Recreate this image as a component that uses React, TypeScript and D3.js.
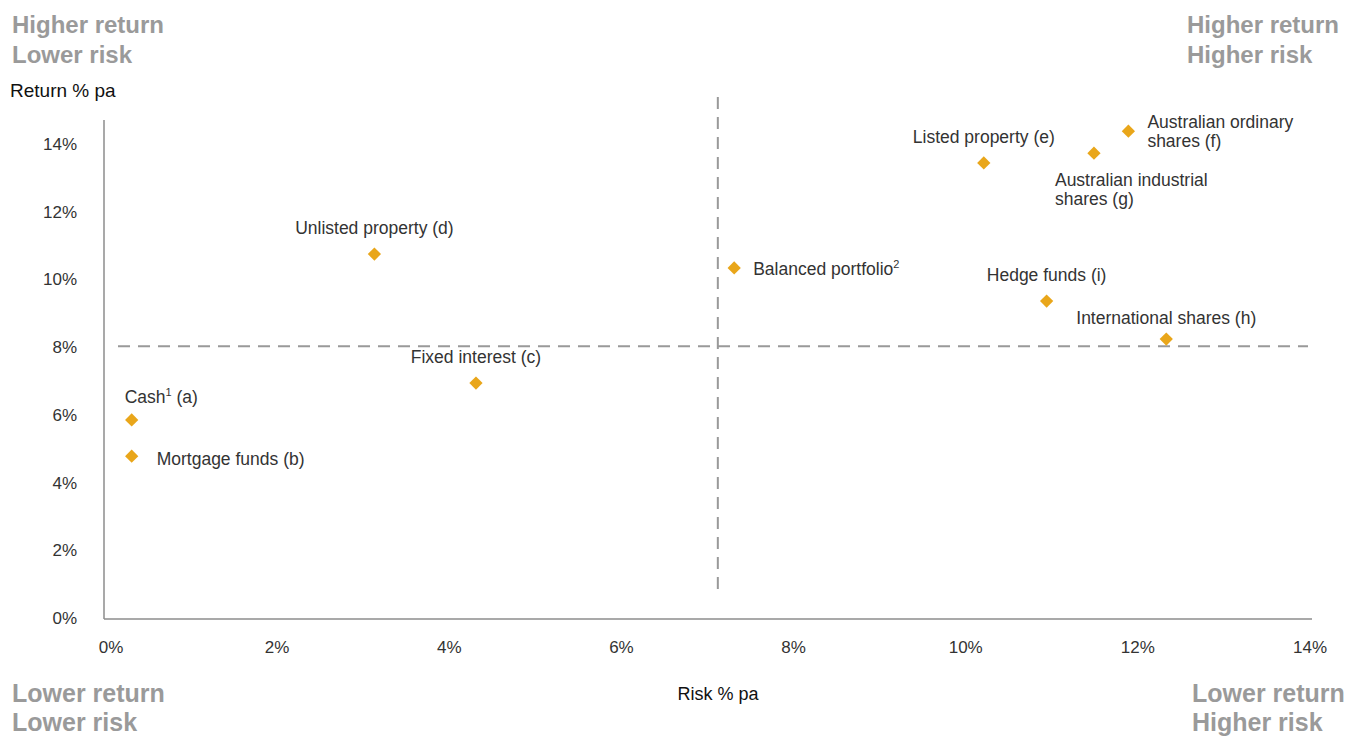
import React from "react";
import * as d3 from "d3";

// Asset classes: risk (% pa) vs return (% pa)
const assetNames = [
  "Cash¹ (a)",
  "Mortgage funds (b)",
  "Fixed interest (c)",
  "Unlisted property (d)",
  "Balanced portfolio²",
  "Listed property (e)",
  "Australian ordinary shares (f)",
  "Australian industrial shares (g)",
  "International shares (h)",
  "Hedge funds (i)",
];
const riskValues = [0.31, 0.31, 4.31, 3.13, 7.31, 10.21, 11.89, 11.49, 12.33, 10.94];
const returnValues = [5.85, 4.78, 6.94, 10.75, 10.34, 13.44, 14.38, 13.73, 8.24, 9.36];

// Label placement for each point: which side the label sits on
const labelPlacement = ["above-left", "right", "above", "above", "right", "above", "right-two", "below-two", "above-close", "above"];
const labelLines = [
  ["Cash", "1", " (a)"],
  ["Mortgage funds (b)"],
  ["Fixed interest (c)"],
  ["Unlisted property (d)"],
  ["Balanced portfolio", "2", ""],
  ["Listed property (e)"],
  ["Australian ordinary", "shares (f)"],
  ["Australian industrial", "shares (g)"],
  ["International shares (h)"],
  ["Hedge funds (i)"],
];

const xTicks = [0, 2, 4, 6, 8, 10, 12, 14];
const yTicks = [0, 2, 4, 6, 8, 10, 12, 14];

// Quadrant dividers
const riskDivider = 7.12;
const returnDivider = 8.03;

const W = 1348;
const H = 736;
const FONT = "'Liberation Sans', Arial, Helvetica, sans-serif";
const GOLD = "#E9A61A";
const TEXT = "#333333";
const QUAD = "#9a9a9a";
const LS = 17.5;

export default function App() {
  const x = d3.scaleLinear().domain([0, 14]).range([105, 1310]);
  const y = d3.scaleLinear().domain([0, 14]).range([618, 144]);
  const diamondSq = d3.symbol().type(d3.symbolSquare).size(88)();

  const renderLabel = (i: number) => {
    const px = x(riskValues[i]);
    const py = y(returnValues[i]);
    const lines = labelLines[i];
    const pl = labelPlacement[i];
    const common = { fontFamily: FONT, fontSize: LS, fill: TEXT };
    if (pl === "above-left") {
      return (
        <text key={i} x={px - 7} y={py - 17} {...common}>
          {lines[0]}
          <tspan fontSize={11} dy={-7}>{lines[1]}</tspan>
          <tspan dy={7}>{lines[2]}</tspan>
        </text>
      );
    }
    if (pl === "right") {
      if (lines.length === 3) {
        return (
          <text key={i} x={px + 19} y={py + 7} {...common}>
            {lines[0]}
            <tspan fontSize={11} dy={-7}>{lines[1]}</tspan>
          </text>
        );
      }
      return (
        <text key={i} x={px + 25} y={py + 9} {...common}>
          {lines[0]}
        </text>
      );
    }
    if (pl === "above" || pl === "above-close") {
      return (
        <text key={i} x={px} y={py - (pl === "above" ? 20 : 15)} textAnchor="middle" {...common}>
          {lines[0]}
        </text>
      );
    }
    if (pl === "right-two") {
      return (
        <text key={i} x={px + 19} y={py - 3} {...common}>
          <tspan x={px + 19}>{lines[0]}</tspan>
          <tspan x={px + 19} dy={19}>{lines[1]}</tspan>
        </text>
      );
    }
    // below-two
    return (
      <text key={i} x={px - 39} y={py + 33} {...common}>
        <tspan x={px - 39}>{lines[0]}</tspan>
        <tspan x={px - 39} dy={19}>{lines[1]}</tspan>
      </text>
    );
  };

  return (
    <svg
      width={W}
      height={H}
      style={{ position: "absolute", left: 0, top: 0, background: "#fff" }}
    >
      {/* quadrant captions */}
      <g fontFamily={FONT} fontWeight="bold" fontSize={24} fill={QUAD}>
        <text x={12} y={33}>Higher return</text>
        <text x={12} y={63}>Lower risk</text>
        <text x={1187} y={33}>Higher return</text>
        <text x={1187} y={63}>Higher risk</text>
        <text x={12} y={702} fontSize={25}>Lower return</text>
        <text x={12} y={731} fontSize={25}>Lower risk</text>
        <text x={1192} y={702} fontSize={25}>Lower return</text>
        <text x={1192} y={731} fontSize={25}>Higher risk</text>
      </g>

      {/* axis titles */}
      <text x={10} y={97} fontFamily={FONT} fontSize={19} fill="#111">Return % pa</text>
      <text x={718} y={700} textAnchor="middle" fontFamily={FONT} fontSize={18} fill="#111">Risk % pa</text>

      {/* axes */}
      <line x1={104} x2={104} y1={120} y2={619} stroke="#8c8c8c" strokeWidth={1.5} />
      <line x1={104} x2={1312} y1={619} y2={619} stroke="#8c8c8c" strokeWidth={1.5} />

      {yTicks.map((t) => (
        <text key={"y" + t} x={77} y={y(t) + 6} textAnchor="end" fontFamily={FONT} fontSize={17} fill={TEXT}>
          {t}%
        </text>
      ))}
      {xTicks.map((t) => (
        <text key={"x" + t} x={x(t) + (t === 0 ? 6 : 0)} y={653} textAnchor="middle" fontFamily={FONT} fontSize={17} fill={TEXT}>
          {t}%
        </text>
      ))}

      {/* quadrant dividers */}
      <line
        x1={118}
        x2={1308}
        y1={y(returnDivider)}
        y2={y(returnDivider)}
        stroke="#999"
        strokeWidth={2}
        strokeDasharray="12 8"
      />
      <line
        x1={x(riskDivider)}
        x2={x(riskDivider)}
        y1={97}
        y2={596}
        stroke="#999"
        strokeWidth={2}
        strokeDasharray="12 8"
      />

      {/* points */}
      {riskValues.map((r, i) => (
        <path
          key={"p" + i}
          d={diamondSq}
          transform={`translate(${x(r)},${y(returnValues[i])}) rotate(45)`}
          fill={GOLD}
        />
      ))}

      {assetNames.map((_, i) => renderLabel(i))}
    </svg>
  );
}
